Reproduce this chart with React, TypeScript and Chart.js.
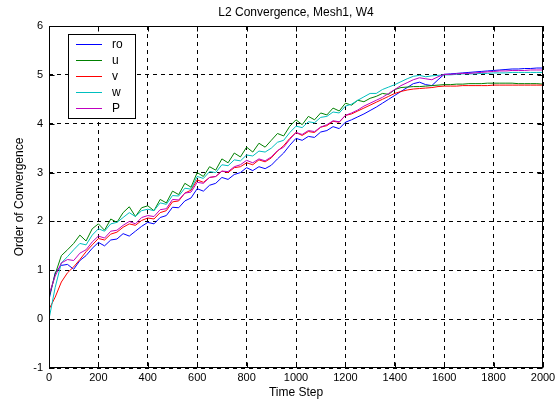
import React, { useEffect, useRef } from "react";
import { Chart, registerables } from "chart.js";

Chart.register(...registerables);

const TITLE = "L2 Convergence, Mesh1, W4";
const X_LABEL = "Time Step";
const Y_LABEL = "Order of Convergence";

// time steps sampled every 25 steps, 0..2000
const TIME_STEPS: number[] = Array.from({ length: 81 }, (_, i) => i * 25);

const SERIES_NAMES = ["ro", "u", "v", "w", "P"];
const SERIES_COLORS = ["#0000ff", "#008000", "#ff0000", "#00bfbf", "#bf00bf"];

const RO = [
  0.40, 0.95, 1.10, 1.12, 1.02, 1.20, 1.30, 1.45, 1.57, 1.50, 1.62, 1.64, 1.75, 1.70, 1.80, 1.90,
  1.98, 1.95, 2.08, 2.12, 2.29, 2.28, 2.42, 2.48, 2.67, 2.62, 2.74, 2.78, 2.90, 2.86, 2.96, 3.00,
  3.10, 3.04, 3.12, 3.08, 3.15, 3.28, 3.40, 3.56, 3.70, 3.66, 3.74, 3.72, 3.83, 3.86, 3.94, 3.90,
  4.03, 4.08, 4.14, 4.20, 4.27, 4.34, 4.42, 4.50, 4.58, 4.66, 4.74, 4.82, 4.85, 4.80, 4.78, 4.90,
  5.01, 5.02, 5.03, 5.04, 5.05, 5.06, 5.07, 5.08, 5.09, 5.10, 5.11, 5.12, 5.12, 5.13, 5.13, 5.14, 5.14,
];

const U = [
  0.45, 0.92, 1.30, 1.42, 1.55, 1.72, 1.60, 1.85, 1.95, 1.82, 2.05, 1.98, 2.18, 2.30, 2.10, 2.28,
  2.32, 2.22, 2.45, 2.38, 2.62, 2.55, 2.78, 2.70, 3.00, 2.92, 3.12, 3.05, 3.28, 3.20, 3.40, 3.32,
  3.52, 3.42, 3.60, 3.52, 3.66, 3.80, 3.75, 3.95, 4.08, 3.98, 4.15, 4.08, 4.22, 4.18, 4.32, 4.26,
  4.42, 4.38, 4.48, 4.45, 4.52, 4.56, 4.62, 4.60, 4.70, 4.74, 4.75, 4.76, 4.76, 4.77, 4.78, 4.79,
  4.80, 4.80, 4.81, 4.81, 4.82, 4.82, 4.82, 4.83, 4.83, 4.83, 4.83, 4.83, 4.82, 4.82, 4.82, 4.82, 4.81,
];

const V = [
  0.20, 0.45, 0.76, 0.95, 1.07, 1.22, 1.38, 1.52, 1.65, 1.62, 1.74, 1.78, 1.88, 1.95, 1.92, 2.02,
  2.07, 2.05, 2.18, 2.22, 2.40, 2.42, 2.58, 2.64, 2.85, 2.80, 2.90, 2.92, 3.03, 3.00, 3.10, 3.12,
  3.20, 3.16, 3.26, 3.22, 3.30, 3.44, 3.55, 3.70, 3.82, 3.76, 3.84, 3.82, 3.93, 3.96, 4.05, 4.03,
  4.17, 4.20, 4.26, 4.32, 4.38, 4.44, 4.50, 4.56, 4.62, 4.66, 4.69, 4.71, 4.72, 4.73, 4.74, 4.76,
  4.77, 4.77, 4.77, 4.78, 4.78, 4.78, 4.78, 4.78, 4.79, 4.79, 4.79, 4.79, 4.79, 4.79, 4.79, 4.79, 4.79,
];

const W = [
  0.00, 0.65, 1.15, 1.28, 1.42, 1.55, 1.52, 1.72, 1.85, 1.80, 1.95, 1.98, 2.08, 2.18, 2.10, 2.22,
  2.25, 2.22, 2.38, 2.35, 2.53, 2.52, 2.68, 2.66, 2.92, 2.88, 3.02, 3.00, 3.16, 3.14, 3.26, 3.24,
  3.36, 3.34, 3.44, 3.42, 3.50, 3.62, 3.66, 3.82, 3.95, 3.92, 4.04, 4.02, 4.13, 4.15, 4.24, 4.22,
  4.36, 4.40, 4.48, 4.55, 4.62, 4.62, 4.70, 4.75, 4.80, 4.86, 4.92, 4.97, 4.99, 4.96, 4.98, 4.99,
  5.00, 5.00, 5.01, 5.02, 5.02, 5.02, 5.03, 5.03, 5.04, 5.04, 5.04, 5.05, 5.05, 5.05, 5.05, 5.05, 5.05,
];

const P = [
  0.50, 0.88, 1.15, 1.22, 1.20, 1.35, 1.42, 1.58, 1.70, 1.66, 1.80, 1.82, 1.92, 2.00, 1.95, 2.08,
  2.12, 2.10, 2.24, 2.26, 2.45, 2.44, 2.58, 2.60, 2.80, 2.78, 2.90, 2.92, 3.03, 3.02, 3.12, 3.16,
  3.25, 3.20, 3.28, 3.24, 3.32, 3.45, 3.52, 3.68, 3.82, 3.78, 3.86, 3.84, 3.93, 3.98, 4.06, 4.04,
  4.17, 4.22, 4.28, 4.36, 4.42, 4.48, 4.54, 4.62, 4.70, 4.78, 4.84, 4.90, 4.94, 4.92, 4.90, 4.96,
  5.01, 5.01, 5.02, 5.03, 5.03, 5.04, 5.05, 5.06, 5.07, 5.08, 5.08, 5.09, 5.09, 5.09, 5.10, 5.10, 5.10,
];

const SERIES_VALUES = [RO, U, V, W, P];

const X_MIN = 0;
const X_MAX = 2000;
const X_STEP = 200;
const Y_MIN = -1;
const Y_MAX = 6;
const Y_STEP = 1;

const FONT = "'Liberation Sans', Arial, Helvetica, sans-serif";

const matlabPlugin = {
  id: "matlabDecor",
  afterDatasetsDraw(chart: any) {
    const { ctx, chartArea, scales } = chart;
    const { left, right, top, bottom } = chartArea;
    ctx.save();
    ctx.strokeStyle = "#000";
    ctx.lineWidth = 1;
    ctx.setLineDash([]);
    // frame
    const L = Math.round(left) + 0.5;
    const R = Math.round(right) - 0.5;
    const T = Math.round(top) + 0.5;
    const B = Math.round(bottom) - 0.5;
    ctx.strokeRect(L, T, R - L, B - T);
    // inward ticks
    const tl = 5;
    ctx.beginPath();
    for (let v = X_MIN; v <= X_MAX; v += X_STEP) {
      const px = Math.round(scales.x.getPixelForValue(v)) + 0.5;
      ctx.moveTo(px, T);
      ctx.lineTo(px, T + tl);
      ctx.moveTo(px, B);
      ctx.lineTo(px, B - tl);
    }
    for (let v = Y_MIN; v <= Y_MAX; v += Y_STEP) {
      const py = Math.round(scales.y.getPixelForValue(v)) + 0.5;
      ctx.moveTo(L, py);
      ctx.lineTo(L + tl, py);
      ctx.moveTo(R, py);
      ctx.lineTo(R - tl, py);
    }
    ctx.stroke();

    // title
    ctx.fillStyle = "#000";
    ctx.font = `12px ${FONT}`;
    ctx.textAlign = "center";
    ctx.textBaseline = "middle";
    ctx.fillText(TITLE, (left + right) / 2, 13);
    // x label
    ctx.fillText(X_LABEL, (left + right) / 2, 393);
    // y label
    ctx.save();
    ctx.translate(20, (top + bottom) / 2);
    ctx.rotate(-Math.PI / 2);
    ctx.fillText(Y_LABEL, 0, 0);
    ctx.restore();

    // legend
    const bx = 68.5, by = 34.5, bw = 67, bh = 84;
    ctx.fillStyle = "#fff";
    ctx.fillRect(bx, by, bw, bh);
    ctx.strokeStyle = "#000";
    ctx.strokeRect(bx, by, bw, bh);
    ctx.font = `12px ${FONT}`;
    ctx.textAlign = "left";
    ctx.textBaseline = "middle";
    SERIES_NAMES.forEach((name, i) => {
      const y = 44 + i * 16;
      ctx.strokeStyle = SERIES_COLORS[i];
      ctx.beginPath();
      ctx.moveTo(76, y + 0.5);
      ctx.lineTo(102, y + 0.5);
      ctx.stroke();
      ctx.fillStyle = "#000";
      ctx.fillText(name, 112, y + 1);
    });
    ctx.restore();
  },
};

export default function App() {
  const canvasRef = useRef<HTMLCanvasElement | null>(null);

  useEffect(() => {
    document.body.style.margin = "0";
    const canvas = canvasRef.current;
    if (!canvas) return;
    const datasets = SERIES_NAMES.map((name, i) => ({
      label: name,
      data: TIME_STEPS.map((t, j) => ({ x: t, y: SERIES_VALUES[i][j] })),
      borderColor: SERIES_COLORS[i],
      backgroundColor: SERIES_COLORS[i],
      borderWidth: 1,
      pointRadius: 0,
      tension: 0,
      fill: false,
      order: SERIES_NAMES.length - i,
    }));
    const chart = new Chart(canvas, {
      type: "line",
      data: { datasets },
      plugins: [matlabPlugin],
      options: {
        animation: false,
        responsive: false,
        maintainAspectRatio: false,
        devicePixelRatio: 1,
        layout: { padding: { top: 26, right: 17, left: 0, bottom: 0 } },
        plugins: {
          legend: { display: false },
          title: { display: false },
          tooltip: { enabled: false },
        },
        scales: {
          x: {
            type: "linear",
            min: X_MIN,
            max: X_MAX,
            afterFit: (s: any) => {
              s.height = 36;
            },
            ticks: {
              stepSize: X_STEP,
              color: "#000",
              font: { family: FONT, size: 11 },
              padding: 3,
              maxRotation: 0,
              autoSkip: false,
              callback: (v: any) => String(v),
            },
            grid: { color: "#000", lineWidth: 1, drawTicks: false },
            border: { display: false, dash: [4, 4] },
          },
          y: {
            type: "linear",
            min: Y_MIN,
            max: Y_MAX,
            afterFit: (s: any) => {
              s.width = 49;
            },
            ticks: {
              stepSize: Y_STEP,
              color: "#000",
              font: { family: FONT, size: 11 },
              padding: 6,
              autoSkip: false,
              callback: (v: any) => String(v),
            },
            grid: { color: "#000", lineWidth: 1, drawTicks: false },
            border: { display: false, dash: [4, 4] },
          },
        },
      },
    });
    return () => chart.destroy();
  }, []);

  return (
    <div style={{ width: 560, height: 404, background: "#fff" }}>
      <canvas ref={canvasRef} width={560} height={404} style={{ display: "block" }} />
    </div>
  );
}
